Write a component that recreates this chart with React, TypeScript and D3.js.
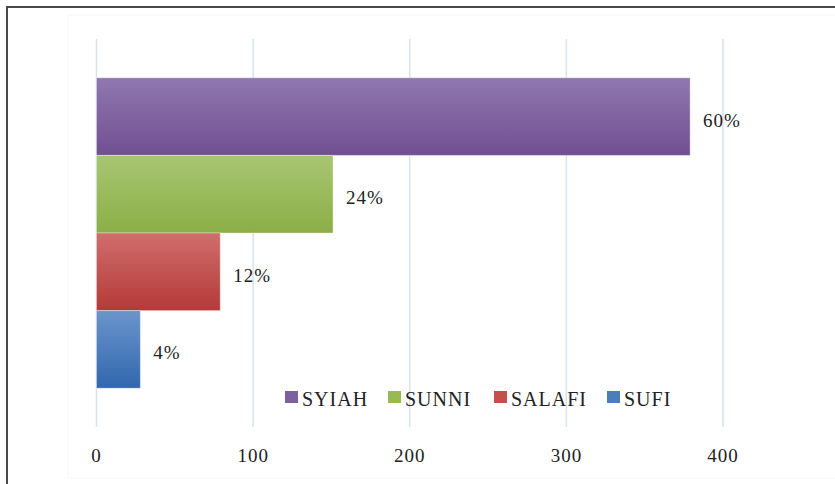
import React from "react";
import * as d3 from "d3";

const SERIES = ["SYIAH", "SUNNI", "SALAFI", "SUFI"];
const VALUES = [379, 151, 79, 28];
const LABELS = ["60%", "24%", "12%", "4%"];
const TICKS = [0, 100, 200, 300, 400];

const GRADS = [
  ["#8f78b0", "#714f92"],
  ["#a8c672", "#8cae47"],
  ["#d06e6c", "#b43a38"],
  ["#6b95cb", "#3167ae"],
];
const SWATCH = ["#7d60a0", "#98b954", "#c4504d", "#4a7ebb"];

const W = 835;
const H = 484;
const FONT = '"Liberation Serif", "DejaVu Serif", serif';

export default function App() {
  const x = d3.scaleLinear().domain([0, 400]).range([96.5, 723]);
  const y = d3.scaleBand<string>().domain(SERIES).range([39, 427]).paddingInner(0).paddingOuter(0.5);

  const legendX = [285, 388, 494, 607];

  return (
    <svg
      width={W}
      height={H}
      style={{ position: "fixed", left: 0, top: 0, background: "#fff", fontFamily: FONT }}
    >
      <defs>
        {GRADS.map((g, i) => (
          <linearGradient key={i} id={`g${i}`} x1="0" y1="0" x2="0" y2="1">
            <stop offset="0" stopColor={g[0]} />
            <stop offset="1" stopColor={g[1]} />
          </linearGradient>
        ))}
      </defs>

      {/* outer frame */}
      <rect x={7} y={7} width={W + 10} height={H + 10} fill="none" stroke="#4a4a4a" strokeWidth={2} />
      {/* faint chart area */}
      <rect x={68} y={15} width={W} height={463} fill="none" stroke="#f5f6f8" strokeWidth={1} />

      {/* grid */}
      {TICKS.map((t) => (
        <line key={t} x1={x(t)} x2={x(t)} y1={39} y2={427} stroke="#d6e3f3" strokeWidth={1.5} />
      ))}

      {/* bars */}
      {SERIES.map((s, i) => (
        <rect
          key={s}
          x={x(0)}
          y={y(s)}
          width={x(VALUES[i]) - x(0)}
          height={y.bandwidth()}
          fill={`url(#g${i})`}
          stroke="rgba(255,255,255,0.35)"
          strokeWidth={1}
        />
      ))}

      {/* data labels */}
      {SERIES.map((s, i) => (
        <text
          key={s}
          x={x(VALUES[i]) + 13}
          y={(y(s) ?? 0) + y.bandwidth() / 2 + 10}
          fontSize={19}
          letterSpacing={1}
          fill="#222"
        >
          {LABELS[i]}
        </text>
      ))}

      {/* x tick labels */}
      {TICKS.map((t) => (
        <text key={t} x={x(t)} y={462} fontSize={19} letterSpacing={1} textAnchor="middle" fill="#222">
          {t}
        </text>
      ))}

      {/* legend */}
      {SERIES.map((s, i) => (
        <g key={s}>
          <rect x={legendX[i]} y={391} width={13} height={12} fill={SWATCH[i]} />
          <text x={legendX[i] + 17} y={406} fontSize={20} letterSpacing={1} fill="#222">
            {s}
          </text>
        </g>
      ))}
    </svg>
  );
}
